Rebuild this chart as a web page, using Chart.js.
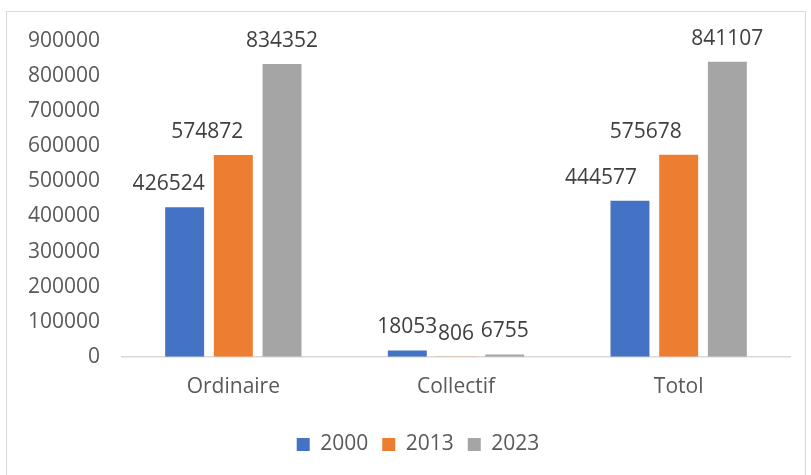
<!DOCTYPE html>
<html>
<head>
<meta charset="utf-8">
<script src="https://cdn.jsdelivr.net/npm/chart.js@4"></script>
<style>
html,body{margin:0;padding:0;background:#fff;}
#wrap{position:relative;width:811px;height:475px;overflow:hidden;}
#frame{position:absolute;left:6px;top:11px;width:800px;height:480px;border:1.5px solid #d9d9d9;box-sizing:border-box;}
canvas{position:absolute;left:0;top:0;}
</style>
</head>
<body>
<div id="wrap">
<div id="frame"></div>
<canvas id="c" width="811" height="475"></canvas>
</div>
<script>
const categories = ["Ordinaire", "Collectif", "Totol"];
const series2000 = [426524, 18053, 444577];
const series2013 = [574872, 806, 575678];
const series2023 = [834352, 6755, 841107];
const seriesNames = ["2000", "2013", "2023"];
const yTicks = [0,100000,200000,300000,400000,500000,600000,700000,800000,900000];

const FONT = "'Open Sans', sans-serif";
const FS = 21;

// horizontal nudges of the value labels (style only), per dataset then category
const labelNudge = [[-16, 0, -29], [-26, 0, -33], [0, 0, 0]];

const labelPlugin = {
  id: 'valueLabels',
  afterDatasetsDraw(chart) {
    const ctx = chart.ctx;
    ctx.save();
    ctx.font = FS + "px " + FONT;
    ctx.fillStyle = "#404040";
    ctx.textAlign = "center";
    ctx.textBaseline = "alphabetic";
    chart.data.datasets.forEach((ds, i) => {
      const meta = chart.getDatasetMeta(i);
      meta.data.forEach((bar, j) => {
        ctx.fillText(String(ds.data[j]), bar.x + labelNudge[i][j], bar.y - 17);
      });
    });
    ctx.restore();
  }
};

const legendShift = {
  id: 'legendShift',
  afterLayout(chart) {
    const lg = chart.legend;
    if (lg) { lg.left += 23; lg.right += 23; lg.top += 2; lg.bottom += 2; }
  }
};

new Chart(document.getElementById('c'), {
  type: 'bar',
  data: {
    labels: categories,
    datasets: [
      {label: seriesNames[0], data: series2000, backgroundColor: '#4472c4'},
      {label: seriesNames[1], data: series2013, backgroundColor: '#ed7d31'},
      {label: seriesNames[2], data: series2023, backgroundColor: '#a5a5a5'}
    ]
  },
  options: {
    responsive: false,
    animation: false,
    devicePixelRatio: 1,
    layout: {padding: {left: 0, right: 21, top: 41, bottom: 12}},
    datasets: {bar: {categoryPercentage: 0.656, barPercentage: 0.80}},
    plugins: {
      legend: {
        position: 'bottom',
        labels: {
          font: {family: FONT, size: FS},
          color: '#595959',
          boxWidth: 13, boxHeight: 13,
          padding: 14
        }
      },
      tooltip: {enabled: false}
    },
    scales: {
      x: {
        grid: {display: false, drawTicks: false},
        border: {display: true, color: '#d9d9d9', width: 1.5},
        ticks: {font: {family: FONT, size: FS}, color: '#595959', padding: 18}
      },
      y: {
        min: 0, max: 900000,
        afterFit: s => { s.width = 122; },
        afterBuildTicks: s => { s.ticks = yTicks.map(v => ({value: v})); },
        grid: {display: false, drawTicks: false},
        border: {display: false},
        ticks: {font: {family: FONT, size: FS}, color: '#595959', padding: 22,
                callback: v => String(v)}
      }
    }
  },
  plugins: [labelPlugin, legendShift]
});
</script>
</body>
</html>
